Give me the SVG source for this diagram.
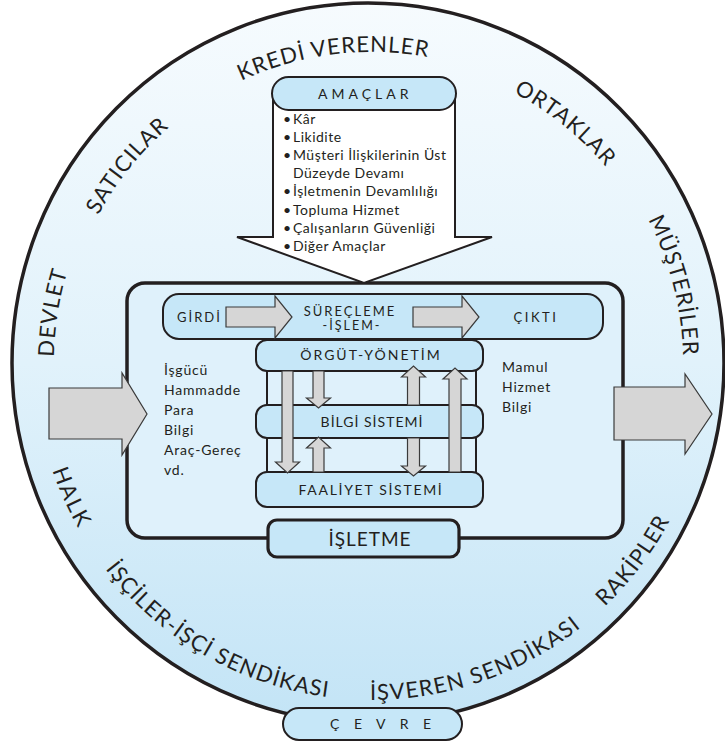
<svg xmlns="http://www.w3.org/2000/svg" width="725" height="745" viewBox="0 0 725 745">
<defs>
  <linearGradient id="bg" x1="0" y1="0" x2="0" y2="1">
    <stop offset="0" stop-color="#f6fbfe"/>
    <stop offset="0.5" stop-color="#e1f2fb"/>
    <stop offset="1" stop-color="#c3e4f6"/>
  </linearGradient>
  <path id="cw311" d="M372,674 A311,311 0 1 1 372,52 A311,311 0 1 1 372,674"/>
  <path id="cw305" d="M372,668 A305,305 0 1 1 372,58 A305,305 0 1 1 372,668"/>
  <path id="cw318" d="M372,681 A318,318 0 1 1 372,45 A318,318 0 1 1 372,681"/>
  <path id="ccw337" d="M372,26 A337,337 0 1 0 372,700 A337,337 0 1 0 372,26"/>
</defs>
<style>
  text { font-family: Lato, "Open Sans", "DejaVu Sans", sans-serif; fill: #231f20; }
  .env { font-size: 22px; letter-spacing: 1px; }
  .bar { fill: #c6e7f8; stroke: #231f20; stroke-width: 2; }
  .garrow { fill: #d6d6d6; stroke: #3a3a3a; stroke-width: 1.2; }
  .lbl { font-size: 14px; letter-spacing: 1.5px; text-anchor: middle; }
  .flow { font-size: 13px; letter-spacing: 2px; }
  .list { font-size: 14px; letter-spacing: 0.8px; }
  .goal { font-size: 14px; letter-spacing: 0.5px; }
</style>

<g id="cevre">
  <ellipse cx="368" cy="363" rx="356" ry="360" fill="url(#bg)" stroke="#231f20" stroke-width="3.5"/>
  <text class="env" text-anchor="middle"><textPath href="#cw318" startOffset="27.5%">DEVLET</textPath></text>
  <text class="env" text-anchor="middle"><textPath href="#cw311" startOffset="35.8%">SATICILAR</textPath></text>
  <text class="env" text-anchor="middle"><textPath href="#cw311" startOffset="48%">KREDİ VERENLER</textPath></text>
  <text class="env" text-anchor="middle"><textPath href="#cw305" startOffset="60.8%">ORTAKLAR</textPath></text>
  <text class="env" text-anchor="middle"><textPath href="#cw311" startOffset="71%">MÜŞTERİLER</textPath></text>
  <text class="env" text-anchor="middle" style="letter-spacing:2px"><textPath href="#ccw337" startOffset="31.7%">HALK</textPath></text>
  <text class="env" text-anchor="middle"><textPath href="#ccw337" startOffset="41.7%">İŞÇİLER-İŞÇİ SENDİKASI</textPath></text>
  <text class="env" text-anchor="middle" style="letter-spacing:1.3px"><textPath href="#ccw337" startOffset="55.3%">İŞVEREN SENDİKASI</textPath></text>
  <text class="env" text-anchor="middle"><textPath href="#ccw337" startOffset="64.7%">RAKİPLER</textPath></text>
</g>

<g id="isletme">
  <rect x="127" y="283" width="496" height="255" rx="18" fill="#dff1fb" stroke="#231f20" stroke-width="3.5"/>
</g>

<g id="amaclar">
  <path d="M273,95 L273,237 L237,237 L364,283 L492,237 L455,237 L455,95" fill="#ffffff" stroke="#231f20" stroke-width="2"/>
  <rect x="272" y="77" width="184" height="33" rx="16.5" class="bar"/>
  <text x="318" y="99" style="font-size:14px;letter-spacing:4px">AMAÇLAR</text>
  <g class="goal">
    <text x="283" y="124">•</text><text x="293" y="124">Kâr</text>
    <text x="283" y="142">•</text><text x="293" y="142">Likidite</text>
    <text x="283" y="160">•</text><text x="293" y="160">Müşteri İlişkilerinin Üst</text>
    <text x="293" y="178">Düzeyde Devamı</text>
    <text x="283" y="196">•</text><text x="293" y="196">İşletmenin Devamlılığı</text>
    <text x="283" y="214.5">•</text><text x="293" y="214.5">Topluma Hizmet</text>
    <text x="283" y="232.5">•</text><text x="293" y="232.5">Çalışanların Güvenliği</text>
    <text x="283" y="250.5">•</text><text x="293" y="250.5">Diğer Amaçlar</text>
  </g>
</g>

<g id="surec">
  <rect x="163" y="294" width="440" height="45" rx="16" class="bar"/>
  <text class="flow" x="177" y="322">GİRDİ</text>
  <text class="flow" x="350" y="315.5" text-anchor="middle">SÜREÇLEME</text>
  <text class="flow" x="352" y="329.5" text-anchor="middle" style="font-size:12.5px">-İŞLEM-</text>
  <text class="flow" x="536" y="322" text-anchor="middle" style="letter-spacing:2.5px">ÇIKTI</text>
</g>

<g id="frame">
  <rect x="267" y="360" width="209" height="130" fill="none" stroke="#231f20" stroke-width="2"/>
</g>

<g id="orgut">
  <rect x="256" y="340" width="227" height="31" rx="11" class="bar"/>
  <text class="lbl" x="371" y="360" style="letter-spacing:2px">ÖRGÜT-YÖNETİM</text>
</g>
<g id="bilgi">
  <rect x="256" y="405" width="227" height="33" rx="11" class="bar"/>
  <text class="lbl" x="372" y="427" style="letter-spacing:1px">BİLGİ SİSTEMİ</text>
</g>
<g id="faaliyet">
  <rect x="256" y="472" width="227" height="35" rx="11" class="bar"/>
  <text class="lbl" x="371" y="495" style="letter-spacing:1.7px">FAALİYET SİSTEMİ</text>
</g>

<g id="girdiler" class="list">
  <text x="164" y="375">İşgücü</text>
  <text x="164" y="395">Hammadde</text>
  <text x="164" y="415">Para</text>
  <text x="164" y="435">Bilgi</text>
  <text x="164" y="455">Araç-Gereç</text>
  <text x="164" y="475">vd.</text>
</g>
<g id="ciktilar" class="list">
  <text x="502" y="372">Mamul</text>
  <text x="502" y="392">Hizmet</text>
  <text x="502" y="412">Bilgi</text>
</g>

<g id="connectors">
  <polygon class="garrow" points="226,307 275,307 275,296 292,317 275,338 275,327 226,327"/>
  <polygon class="garrow" points="413,307 462,307 462,296 479,317 462,338 462,327 413,327"/>
  <polygon class="garrow" points="282,371 293,371 293,462 299.5,462 287.5,473 275.5,462 282,462"/>
  <polygon class="garrow" points="313,371 324,371 324,398 330.5,398 318.5,408 306.5,398 313,398"/>
  <polygon class="garrow" points="313,472 324,472 324,448 330.5,448 318.5,437 306.5,448 313,448"/>
  <polygon class="garrow" points="407.5,405 419.5,405 419.5,377 425.5,377 413.5,366 401.5,377 407.5,377"/>
  <polygon class="garrow" points="407.5,438 419.5,438 419.5,466 425.5,466 413.5,476 401.5,466 407.5,466"/>
  <polygon class="garrow" points="449,472 461,472 461,379 467,379 455,368 443,379 449,379"/>
  <polygon class="garrow" points="49,388 122,388 122,373 147,414 122,455 122,439 49,439"/>
  <polygon class="garrow" points="614,387 685,387 685,374 712,414 685,454 685,440 614,440"/>
</g>

<g id="isletme-label">
  <rect x="268" y="520" width="191" height="37" rx="9" fill="#c6e7f8" stroke="#231f20" stroke-width="3.2"/>
  <text x="370" y="546" text-anchor="middle" style="font-size:19px;letter-spacing:1px">İŞLETME</text>
</g>

<g id="cevre-label">
  <rect x="283" y="708" width="179" height="32" rx="16" class="bar"/>
  <text x="330" y="729" style="font-size:14px;letter-spacing:5.5px">Ç E V R E</text>
</g>
</svg>
